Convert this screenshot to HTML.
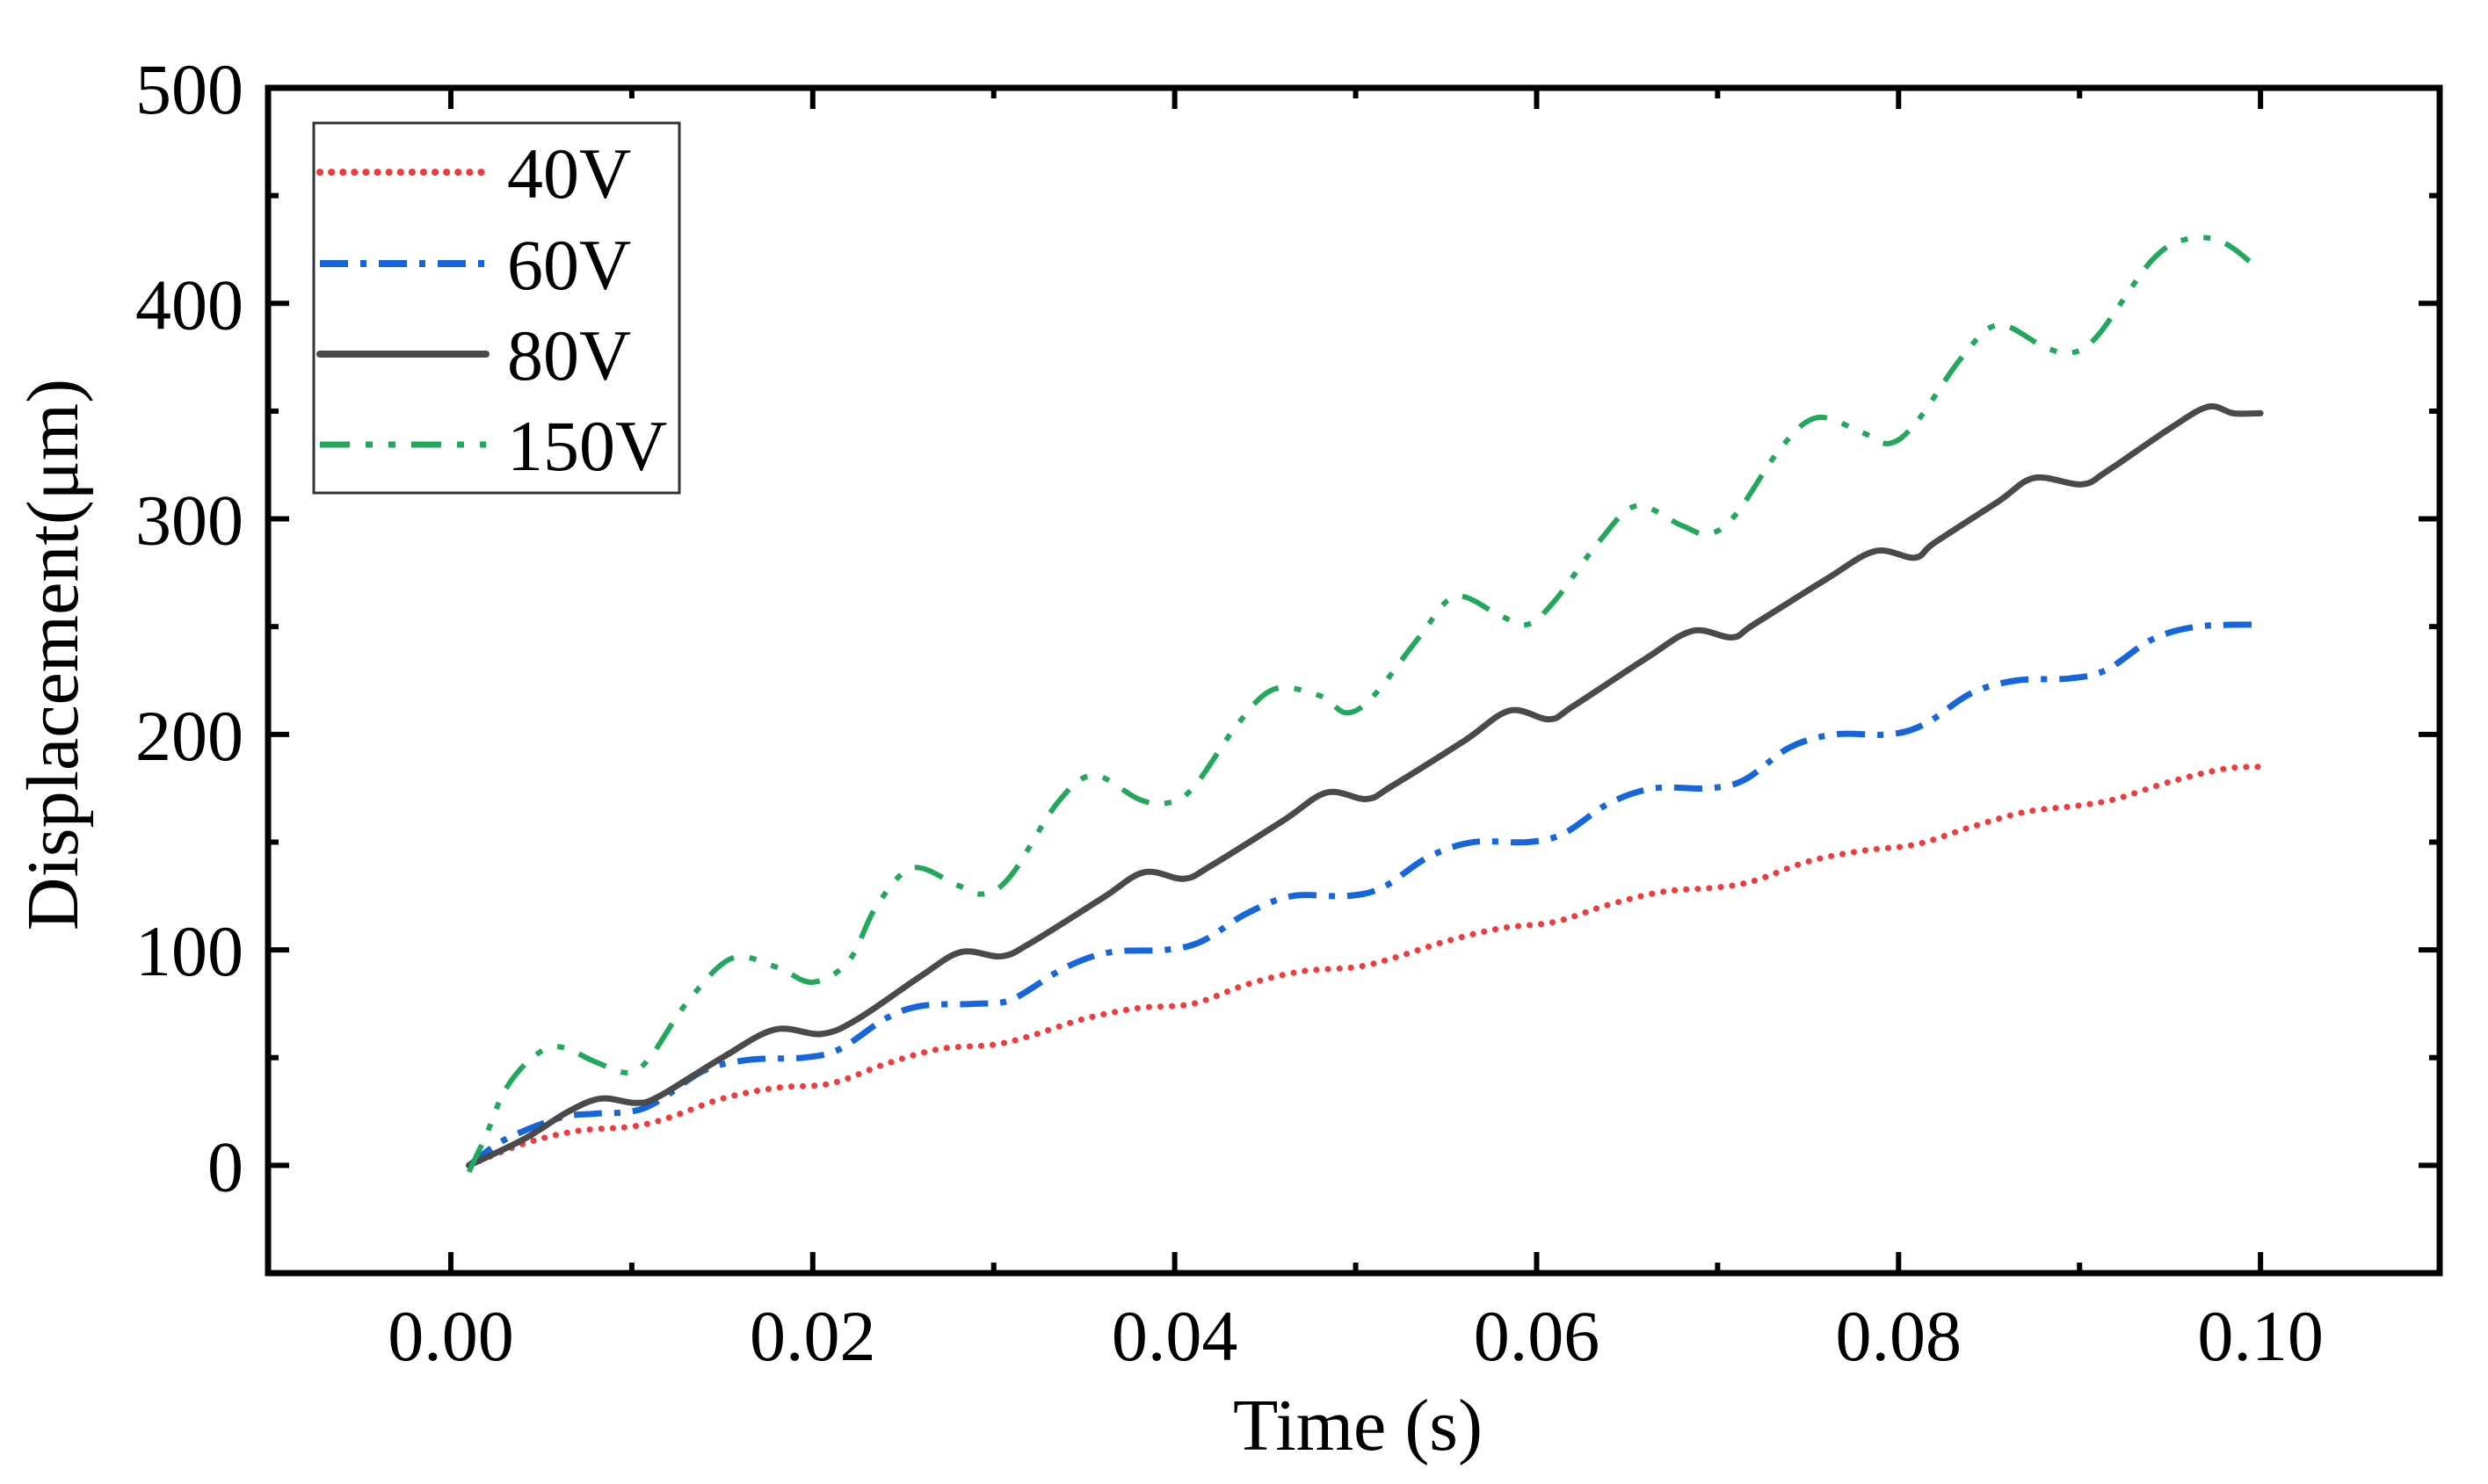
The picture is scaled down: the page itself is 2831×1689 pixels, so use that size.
<!DOCTYPE html>
<html><head><meta charset="utf-8"><style>
html,body{margin:0;padding:0;background:#fff;}
svg{display:block;font-family:"Liberation Serif",serif;}
</style></head><body>
<svg id="chart" width="2831" height="1689" viewBox="0 0 2831 1689" xmlns="http://www.w3.org/2000/svg">
<rect width="2831" height="1689" fill="#fff"/>
<g id="plot"></g>
</svg>
<script>
const xTicks=[0.00,0.02,0.04,0.06,0.08,0.10];
const xTickLabels=["0.00","0.02","0.04","0.06","0.08","0.10"];
const yTicks=[0,100,200,300,400,500];
const yTickLabels=["0","100","200","300","400","500"];
const seriesNames=["40V","60V","80V","150V"];
const t40=[0.001,0.004,0.007,0.010,0.012,0.015,0.018,0.021,0.024,0.027,0.030,0.032,0.035,0.038,0.041,0.044,0.047,0.050,0.052,0.055,0.058,0.061,0.064,0.067,0.070,0.072,0.075,0.078,0.081,0.084,0.087,0.090,0.092,0.095,0.098,0.1];
const v40=[0,10,16,18,22,31,36,38,47,54,56,60,68,73,75,84,90,92,96,104,110,113,121,127,129,132,141,146,149,157,164,167,170,178,184,185];
const t60=[0.001,0.003,0.006,0.008,0.010,0.0115,0.014,0.0165,0.0195,0.0215,0.024,0.026,0.029,0.031,0.034,0.0365,0.0395,0.0415,0.044,0.0465,0.0495,0.0515,0.054,0.0565,0.0595,0.0615,0.064,0.0665,0.0695,0.0715,0.074,0.0765,0.0795,0.0815,0.084,0.0865,0.0895,0.0915,0.094,0.0965,0.1];
const v60=[0,12,22,24,25,30,44,49,50,54,68,74,75,77,92,99,100,104,117,125,125,129,143,150,150,154,168,175,175,179,194,200,200,205,219,225,226,230,244,250,251];
const t80=[0.001,0.004,0.0065,0.0083,0.0102,0.0115,0.015,0.0179,0.0205,0.0225,0.026,0.0282,0.0304,0.032,0.036,0.0383,0.0405,0.042,0.046,0.0484,0.0506,0.052,0.056,0.0585,0.0607,0.062,0.066,0.0686,0.0708,0.072,0.076,0.0787,0.0809,0.082,0.0855,0.0875,0.0901,0.0915,0.095,0.0971,0.0985,0.1];
const v80=[0,12,25,31,29,32,50,63,61,68,88,99,97,103,124,136,133,139,160,173,170,176,197,211,207,213,235,248,245,251,272,285,282,289,308,319,316,322,342,352,349,349];
const t150=[0.001,0.002,0.003,0.0045,0.006,0.008,0.0098,0.011,0.013,0.0155,0.018,0.020,0.022,0.0235,0.0255,0.028,0.0295,0.031,0.0335,0.0355,0.038,0.0395,0.041,0.0435,0.0455,0.048,0.0495,0.051,0.0535,0.0555,0.058,0.0595,0.061,0.0635,0.0655,0.068,0.0695,0.071,0.0735,0.0755,0.078,0.0795,0.081,0.0835,0.0855,0.088,0.0895,0.091,0.094,0.096,0.098,0.1];
const v150=[-3,15,35,50,55,48,43,50,75,96,92,85,95,120,138,130,126,135,168,181,170,168,175,205,221,218,210,218,245,264,255,251,262,290,306,297,293,302,333,347,340,335,345,375,390,380,377,385,420,430,428,415];

const L=305,R=2776,T=100,B=1449;
const xMin=-0.0101,xMax=0.1099,yMin=-50,yMax=500;
const sx=v=>L+(v-xMin)/(xMax-xMin)*(R-L);
const sy=v=>B-(v-yMin)/(yMax-yMin)*(B-T);
const NS="http://www.w3.org/2000/svg";
const g=document.getElementById('plot');
function mk(tag,attrs,parent){const e=document.createElementNS(NS,tag);for(const k in attrs)e.setAttribute(k,attrs[k]);(parent||g).appendChild(e);return e;}
function smooth(xs,ys){
  const p=xs.map((x,i)=>[sx(x),sy(ys[i])]);
  let d="M"+p[0][0]+","+p[0][1];
  for(let i=0;i<p.length-1;i++){
    const p0=p[Math.max(0,i-1)],p1=p[i],p2=p[i+1],p3=p[Math.min(p.length-1,i+2)];
    const c1=[p1[0]+(p2[0]-p0[0])/6,p1[1]+(p2[1]-p0[1])/6];
    const c2=[p2[0]-(p3[0]-p1[0])/6,p2[1]-(p3[1]-p1[1])/6];
    d+=" C"+c1[0]+","+c1[1]+" "+c2[0]+","+c2[1]+" "+p2[0]+","+p2[1];
  }
  return d;
}
const styles=[
 {c:"#f23a3a",dash:"0.1,13",cap:"round",w:7},
 {c:"#1565dd",dash:"32,14,7,14",cap:"butt",w:7},
 {c:"#4a4a4a",dash:"none",cap:"round",w:7},
 {c:"#22a85a",dash:"34,18,8,18,8,18",cap:"butt",w:6}
];
const data=[[t40,v40],[t60,v60],[t80,v80],[t150,v150]];
data.forEach((s,i)=>{
  const st=styles[i];
  const p=mk('path',{d:smooth(s[0],s[1]),fill:"none",stroke:st.c,"stroke-width":st.w,"stroke-dasharray":st.dash,"stroke-linecap":st.cap,"stroke-linejoin":"round"});
  
  
});
const fr=mk('rect',{x:L,y:T,width:R-L,height:B-T,fill:"none",stroke:"#000","stroke-width":7});


xTicks.forEach((v,i)=>{
  const x=sx(v);
  mk('line',{x1:x,y1:B,x2:x,y2:B-24,stroke:"#000","stroke-width":6});
  mk('line',{x1:x,y1:T,x2:x,y2:T+24,stroke:"#000","stroke-width":6});
  if(i<xTicks.length-1){const xm=sx(v+0.01);
    mk('line',{x1:xm,y1:B,x2:xm,y2:B-12,stroke:"#000","stroke-width":6});
    mk('line',{x1:xm,y1:T,x2:xm,y2:T+12,stroke:"#000","stroke-width":6});}
  const t=mk('text',{x:x,y:1548,"font-size":82,"text-anchor":"middle",fill:"#000"});
  t.textContent=xTickLabels[i];
  
  
});
yTicks.forEach((v,i)=>{
  const y=sy(v);
  mk('line',{x1:L,y1:y,x2:L+24,y2:y,stroke:"#000","stroke-width":6});
  mk('line',{x1:R,y1:y,x2:R-24,y2:y,stroke:"#000","stroke-width":6});
  const ym=sy(v-50);
  if(v-50>yMin-1){mk('line',{x1:L,y1:ym,x2:L+12,y2:ym,stroke:"#000","stroke-width":6});
    mk('line',{x1:R,y1:ym,x2:R-12,y2:ym,stroke:"#000","stroke-width":6});}
  const t=mk('text',{x:277,y:y+29,"font-size":82,"text-anchor":"end",fill:"#000"});
  t.textContent=yTickLabels[i];
  
  
});
const xt=mk('text',{x:1545,y:1650,"font-size":84,"text-anchor":"middle",fill:"#000"});
xt.textContent="Time (s)";


const yt=mk('text',{x:0,y:0,"font-size":84,"text-anchor":"middle",fill:"#000",transform:"translate(88,745) rotate(-90)"});
yt.textContent="Displacement(μm)";


const lg=mk('g',{});


mk('rect',{x:357,y:140,width:416,height:421,fill:"#fff",stroke:"#333","stroke-width":3},lg);
const rows=[196,300,403,506];
seriesNames.forEach((n,i)=>{
  const st=styles[i];
  const e=mk('g',{},lg);
  
  
  mk('line',{x1:364,y1:rows[i],x2:553,y2:rows[i],stroke:st.c,"stroke-width":st.w+1,"stroke-dasharray":st.dash,"stroke-linecap":st.cap},e);
  const t=mk('text',{x:577,y:rows[i]+29,"font-size":82,fill:"#000"},e);
  t.textContent=n;
});
</script>
</body></html>
